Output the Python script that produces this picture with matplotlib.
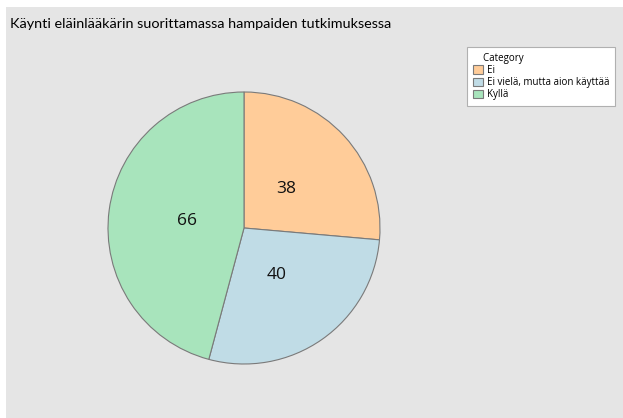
import matplotlib.pyplot as plt
from matplotlib.patches import Rectangle

categories = ["Ei", "Ei vielä, mutta aion käyttää", "Kyllä"]
counts = [38, 40, 66]
colors = ["#ffcc99", "#c0dce6", "#a8e4bc"]
title = "Käynti eläinlääkärin suorittamassa hampaiden tutkimuksessa"

plt.rcParams["font.family"] = ["Open Sans", "DejaVu Sans"]

W, H = 623, 418
fig = plt.figure(figsize=(W / 100, H / 100), dpi=100, facecolor="white")

# gray panel, leaving a thin white strip at top and left
fig.patches.append(Rectangle((6 / W, 0), 1, 1 - 7 / H, transform=fig.transFigure,
                             facecolor="#e5e5e5", edgecolor="none", zorder=-5))

fig.text(10 / W, 1 - 24 / H, title, fontsize=10.4, va="center", ha="left",
         color="#000000", family=["Lato", "DejaVu Sans"])

r = 136
cx, cy = 244, 228
ax = fig.add_axes([(cx - r) / W, 1 - (cy + r) / H, 2 * r / W, 2 * r / H])
ax.set_zorder(2)
ax.set_facecolor("none")
wedges, texts = ax.pie(counts, colors=colors, startangle=90, counterclock=False,
                       labels=[str(c) for c in counts], labeldistance=0.42,
                       wedgeprops=dict(edgecolor="#7a7a7a", linewidth=0.8),
                       textprops=dict(fontsize=12.5, color="#111111"))
for t in texts:
    t.set_ha("center")
    t.set_va("center")
ax.set_aspect("equal")
ax.set_xlim(-1, 1)
ax.set_ylim(-1, 1)

leg = fig.legend(wedges, categories, title="    Category", loc="upper left",
                 bbox_to_anchor=(467 / W, 1 - 47 / H), fontsize=7.05, title_fontsize=7.05,
                 frameon=True, fancybox=False, edgecolor="#b0b0b0", facecolor="white",
                 framealpha=1, handlelength=1.0, handleheight=0.95, handletextpad=0.4,
                 labelspacing=0.12, borderpad=0.6, borderaxespad=0)
leg.get_frame().set_linewidth(0.8)
leg._legend_box.align = "left"
leg.set_zorder(3)

fig.savefig("out.png", dpi=100, facecolor="white")
